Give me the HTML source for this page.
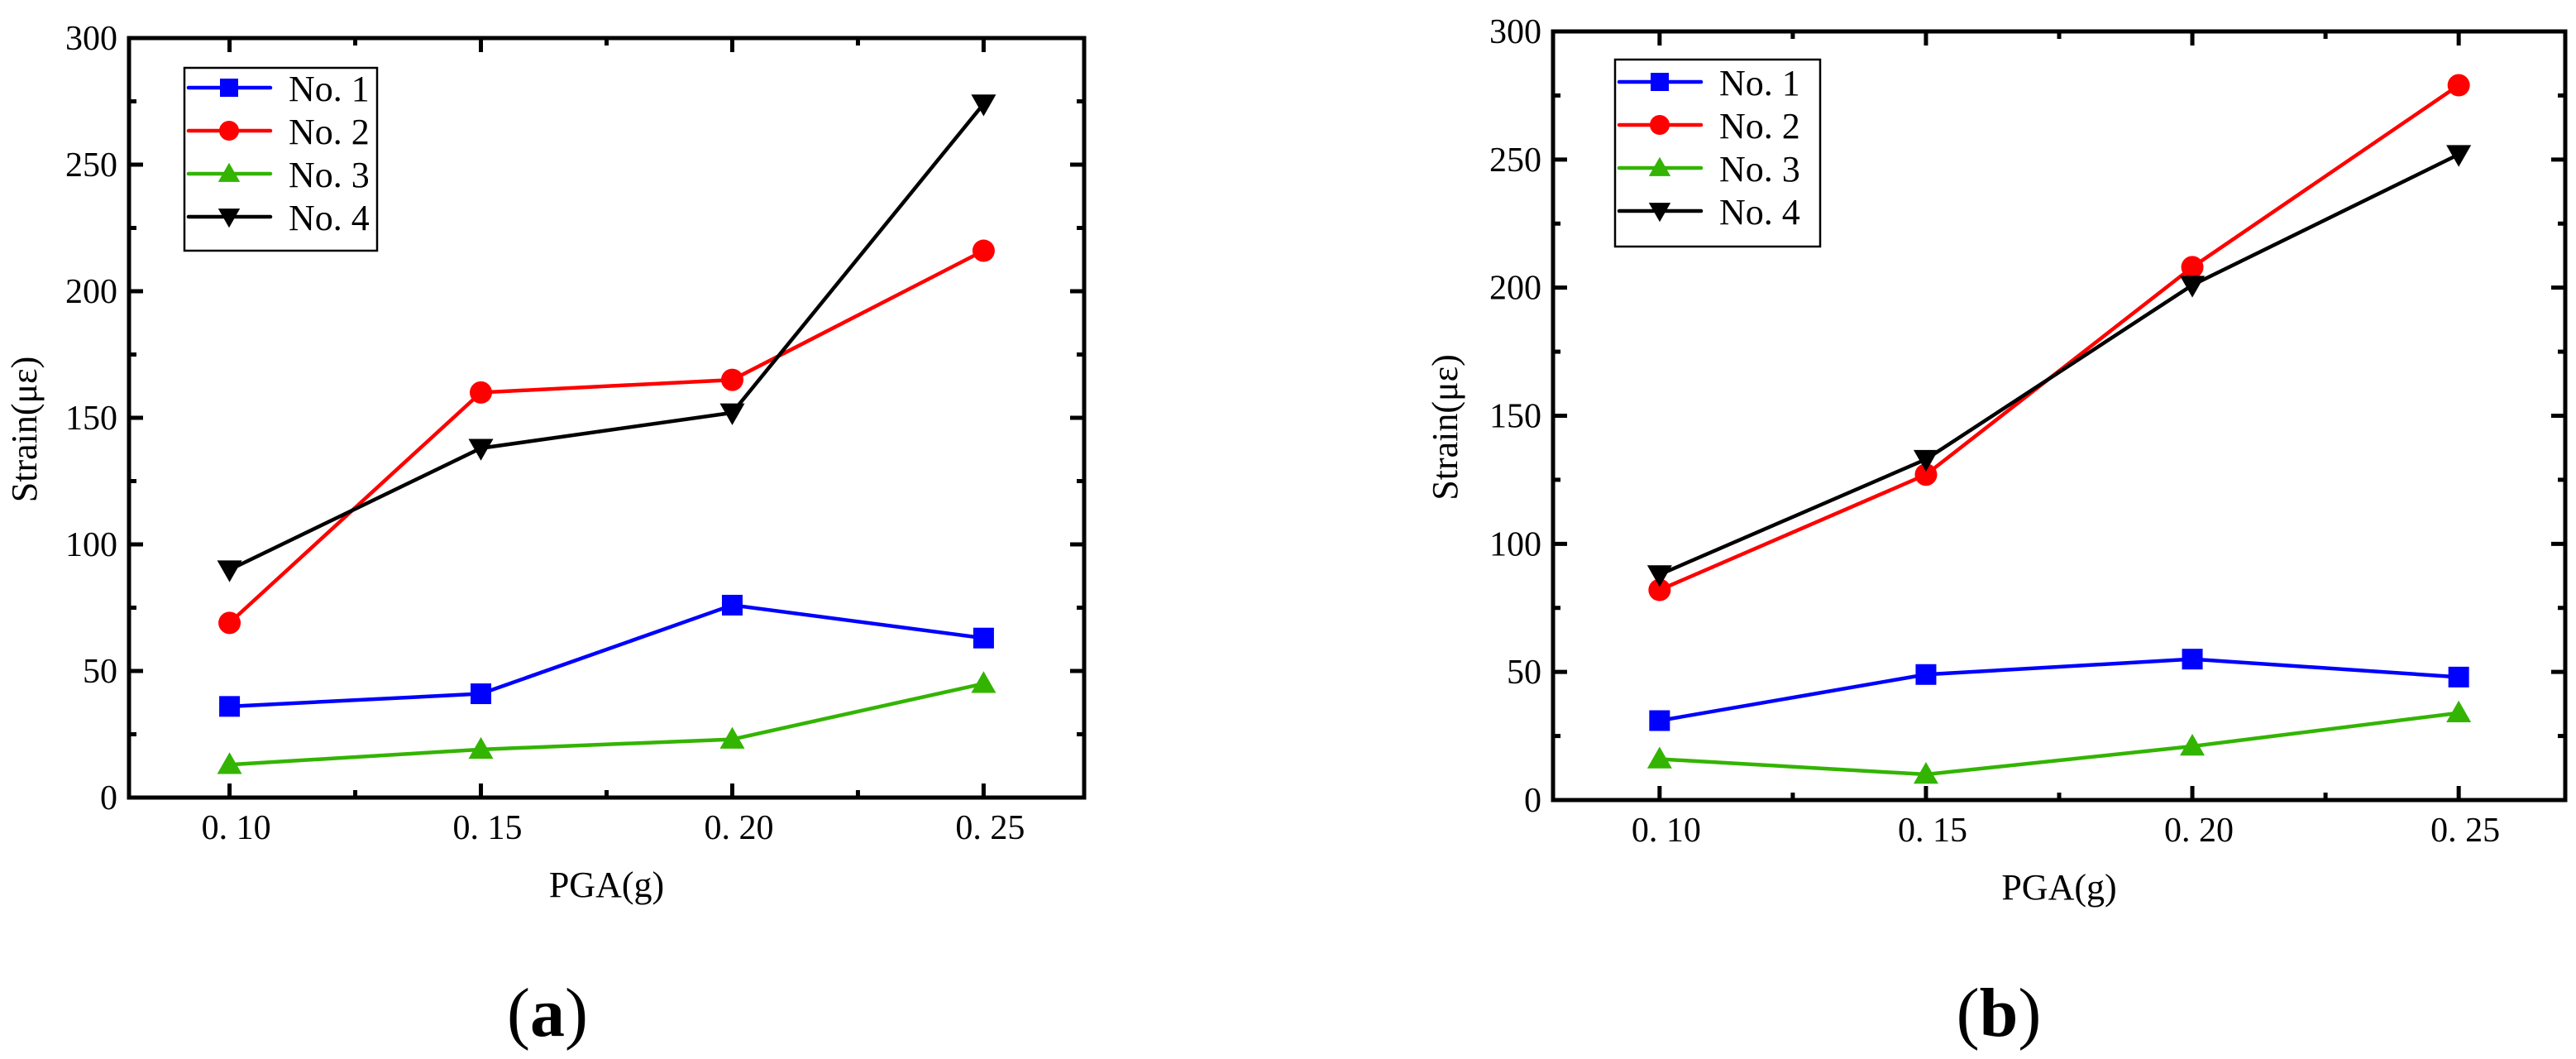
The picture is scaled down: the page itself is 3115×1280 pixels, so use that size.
<!DOCTYPE html>
<html><head><meta charset="utf-8"><style>
html,body{margin:0;padding:0;background:#fff;}
svg{display:block;font-family:"Liberation Serif","Noto Serif CJK SC",serif;}
</style></head><body>
<svg id="svg" width="3115" height="1280" xmlns="http://www.w3.org/2000/svg"></svg>
<script>
const categories = [0.10, 0.15, 0.20, 0.25];
const xTickLabels = ["0. 10", "0. 15", "0. 20", "0. 25"];
const yTicks = [0, 50, 100, 150, 200, 250, 300];
const seriesNames = ["No. 1", "No. 2", "No. 3", "No. 4"];
const aNo1 = [36, 41, 76, 63];
const aNo2 = [69, 160, 165, 216];
const aNo3 = [13, 19, 23, 45];
const aNo4 = [90, 138, 152, 274];
const bNo1 = [31, 49, 55, 48];
const bNo2 = [82, 127, 208, 279];
const bNo3 = [16, 10, 21, 34];
const bNo4 = [88, 133, 201, 252];

const colors = ["#0000ff", "#ff0000", "#33b400", "#000000"];
const markers = ["square", "circle", "up", "down"];
const NS = "http://www.w3.org/2000/svg";
const svg = document.getElementById('svg');

function mk(tag, attrs, parent) {
  const e = document.createElementNS(NS, tag);
  for (const k in attrs) e.setAttribute(k, attrs[k]);
  (parent || svg).appendChild(e);
  return e;
}
function marker(g, type, cx, cy, color, s) {
  let e;
  if (type === "square") e = mk('rect', {x: cx - s/2, y: cy - s/2, width: s, height: s, fill: color}, g);
  else if (type === "circle") e = mk('circle', {cx: cx, cy: cy, r: s/2 + 1, fill: color}, g);
  else if (type === "up") e = mk('polygon', {points: `${cx},${cy - s*0.6} ${cx - s*0.6},${cy + s*0.45} ${cx + s*0.6},${cy + s*0.45}`, fill: color}, g);
  else e = mk('polygon', {points: `${cx},${cy + s*0.6} ${cx - s*0.6},${cy - s*0.45} ${cx + s*0.6},${cy - s*0.45}`, fill: color}, g);
  return e;
}

function chart(id, L, R, T, B, data, legend, label, labelX, ylabX) {
  const g = mk('g', {});
  
  
  const xmin = 0.08, xmax = 0.27;
  const xs = v => L + (v - xmin) / (xmax - xmin) * (R - L);
  const ys = v => B - v / 300 * (B - T);
  const tg = mk('g', {stroke: '#000', 'stroke-width': 5}, g);
  
  
  for (let v = 0; v <= 300; v += 25) {
    const len = v % 50 === 0 ? 17 : 9;
    mk('line', {x1: L, x2: L + len, y1: ys(v), y2: ys(v)}, tg);
    mk('line', {x1: R, x2: R - len, y1: ys(v), y2: ys(v)}, tg);
  }
  for (let k = 0; k <= 6; k++) {
    const v = 0.10 + k * 0.025;
    const len = k % 2 === 0 ? 17 : 9;
    mk('line', {x1: xs(v), x2: xs(v), y1: B, y2: B - len}, tg);
    mk('line', {x1: xs(v), x2: xs(v), y1: T, y2: T + len}, tg);
  }
  const frame = mk('rect', {x: L, y: T, width: R - L, height: B - T, fill: 'none', stroke: '#000', 'stroke-width': 5}, g);
  
  
  yTicks.forEach(v => {
    const t = mk('text', {x: L - 14, y: ys(v) + 14, 'font-size': 42, 'text-anchor': 'end'}, g);
    
    
    t.textContent = v;
  });
  categories.forEach((c, i) => {
    const t = mk('text', {x: xs(c) + 8, y: B + 50, 'font-size': 42, 'text-anchor': 'middle'}, g);
    
    
    t.textContent = xTickLabels[i];
  });
  const xt = mk('text', {x: (L + R) / 2, y: B + 120, 'font-size': 44, 'text-anchor': 'middle'}, g);
  
  
  xt.textContent = 'PGA(g)';
  const yt = mk('text', {x: 0, y: 0, 'font-size': 44, 'text-anchor': 'middle', transform: `translate(${ylabX},${(T + B) / 2 + 14}) rotate(-90)`}, g);
  
  
  yt.textContent = 'Strain(με)';
  data.forEach((vals, si) => {
    const sg = mk('g', {}, g);
    
    
    const pts = vals.map((v, i) => xs(categories[i]) + ',' + ys(v)).join(' ');
    const pl = mk('polyline', {points: pts, fill: 'none', stroke: colors[si], 'stroke-width': 4.5}, sg);
    
    
    vals.forEach((v, i) => {
      const m = marker(sg, markers[si], xs(categories[i]), ys(v), colors[si], 25);
      
      
    });
  });
  const lg = mk('g', {}, g);
  
  
  mk('rect', {x: legend.x, y: legend.y, width: legend.w, height: legend.h, fill: '#fff', stroke: '#000', 'stroke-width': 2.5}, lg);
  seriesNames.forEach((n, si) => {
    const cy = legend.y0 + si * 52;
    const eg = mk('g', {}, lg);
    
    
    mk('line', {x1: legend.x + 5, x2: legend.x + 104, y1: cy, y2: cy, stroke: colors[si], 'stroke-width': 4.5, 'stroke-linecap': 'round'}, eg);
    marker(eg, markers[si], legend.x + 54, cy, colors[si], 22);
    const t = mk('text', {x: legend.x + 126, y: cy + 16, 'font-size': 44}, eg);
    t.textContent = n;
  });
  const pl = mk('text', {x: labelX, y: 1252, 'font-size': 84, 'text-anchor': 'middle'}, g);
  
  
  pl.innerHTML = '(<tspan font-weight="bold">' + id + '</tspan>)';
}

chart('a', 156, 1311, 46, 964, [aNo1, aNo2, aNo3, aNo4],
  {x: 223, y: 82, w: 233, h: 221, y0: 106}, 'a', 662, 44);
chart('b', 1878, 3102, 38, 967, [bNo1, bNo2, bNo3, bNo4],
  {x: 1953, y: 72, w: 248, h: 226, y0: 99}, 'b', 2417, 1762);
</script>
</body></html>
